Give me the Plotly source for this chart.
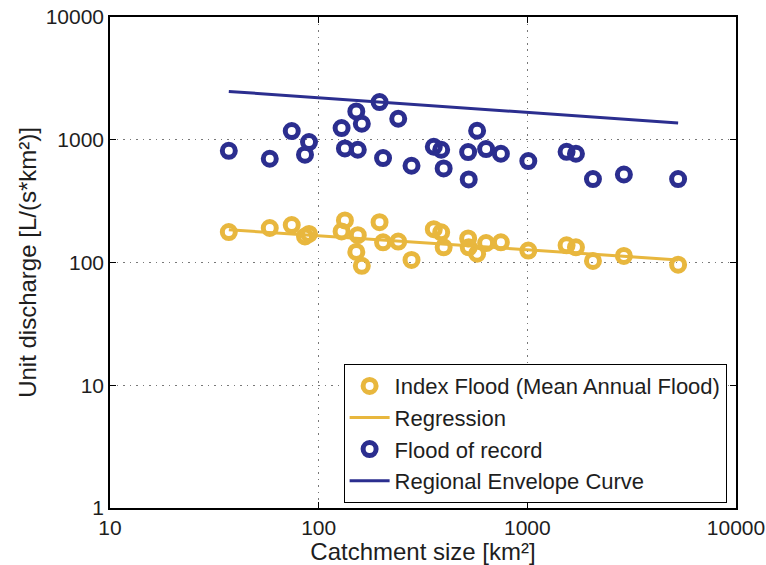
import plotly.graph_objects as go

# Catchment areas [km²] of the gauged basins
area_km2 = [37.1, 58.3, 74.3, 86.0, 89.9, 128.8, 133.6, 151.5, 154.0, 161.0,
            195.8, 203.5, 240.6, 278.6, 356.2, 386.5, 397.2, 520.4, 523.8,
            574.6, 634.5, 746.8, 1011, 1542, 1710, 2063, 2902, 5279]

# Mean annual flood (index flood), unit discharge [L/(s*km²)]
index_flood = [177, 191, 202, 163, 171, 179, 220, 122, 167, 94,
               213, 146, 148, 105, 187, 176, 133, 157, 133,
               118, 144, 146, 125, 138, 133, 103, 113, 96]

# Largest observed flood (flood of record), unit discharge [L/(s*km²)]
flood_record = [813, 700, 1177, 755, 958, 1246, 849, 1701, 829, 1350,
                2029, 709, 1483, 614, 877, 829, 584, 794, 475,
                1184, 840, 769, 671, 798, 769, 478, 521, 478]

# Power-law regression of the index flood (end points)
regression_x = [37.1, 5279]
regression_y = [185, 105]

# Regional envelope curve (end points)
envelope_x = [37.1, 5279]
envelope_y = [2475, 1370]

decade_ticks = [1, 10, 100, 1000, 10000]
decade_labels = ["1", "10", "100", "1000", "10000"]

YELLOW = "rgb(232,183,62)"
BLUE = "rgb(43,46,143)"
TEXT = "rgb(30,30,30)"
FONT = "Liberation Sans, Arial, Helvetica, sans-serif"

fig = go.Figure()
fig.add_trace(go.Scatter(
    x=area_km2, y=index_flood, mode="markers",
    name="Index Flood (Mean Annual Flood)",
    marker=dict(symbol="circle-open", size=13, color=YELLOW,
                line=dict(width=5, color=YELLOW)),
))
fig.add_trace(go.Scatter(
    x=regression_x, y=regression_y, mode="lines", name="Regression",
    line=dict(color=YELLOW, width=3),
))
fig.add_trace(go.Scatter(
    x=area_km2, y=flood_record, mode="markers", name="Flood of record",
    marker=dict(symbol="circle-open", size=13, color=BLUE,
                line=dict(width=5, color=BLUE)),
))
fig.add_trace(go.Scatter(
    x=envelope_x, y=envelope_y, mode="lines", name="Regional Envelope Curve",
    line=dict(color=BLUE, width=3),
))

axis_common = dict(
    type="log", automargin=False,
    showline=True, linecolor="black", linewidth=1.5, mirror="ticks",
    ticks="inside", ticklen=6, tickwidth=1, tickcolor="black",
    showgrid=True, gridcolor="rgb(120,120,120)", griddash="1.5px,5px",
    gridwidth=1,
    zeroline=False,
    tickfont=dict(family=FONT, size=21, color=TEXT),
    tickvals=decade_ticks, ticktext=decade_labels,
)

fig.update_xaxes(
    **axis_common, range=[1, 4],
    title=dict(text="Catchment size [km²]", standoff=2,
               font=dict(family=FONT, size=24, color=TEXT)),
)
fig.update_yaxes(
    **axis_common, range=[0, 4],
    title=dict(text="Unit discharge [L/(s*km²)]", standoff=2,
               font=dict(family=FONT, size=24, color=TEXT)),
)

fig.update_layout(
    width=766, height=565,
    margin=dict(l=110, r=30, t=17, b=57),
    paper_bgcolor="white", plot_bgcolor="white",
    showlegend=True,
    legend=dict(
        x=0.985, y=0.01, xanchor="right", yanchor="bottom",
        bgcolor="white", bordercolor="black", borderwidth=1,
        font=dict(family=FONT, size=22, color=TEXT),
        tracegroupgap=0, itemwidth=40,
    ),
)

fig.write_html("out.html")
